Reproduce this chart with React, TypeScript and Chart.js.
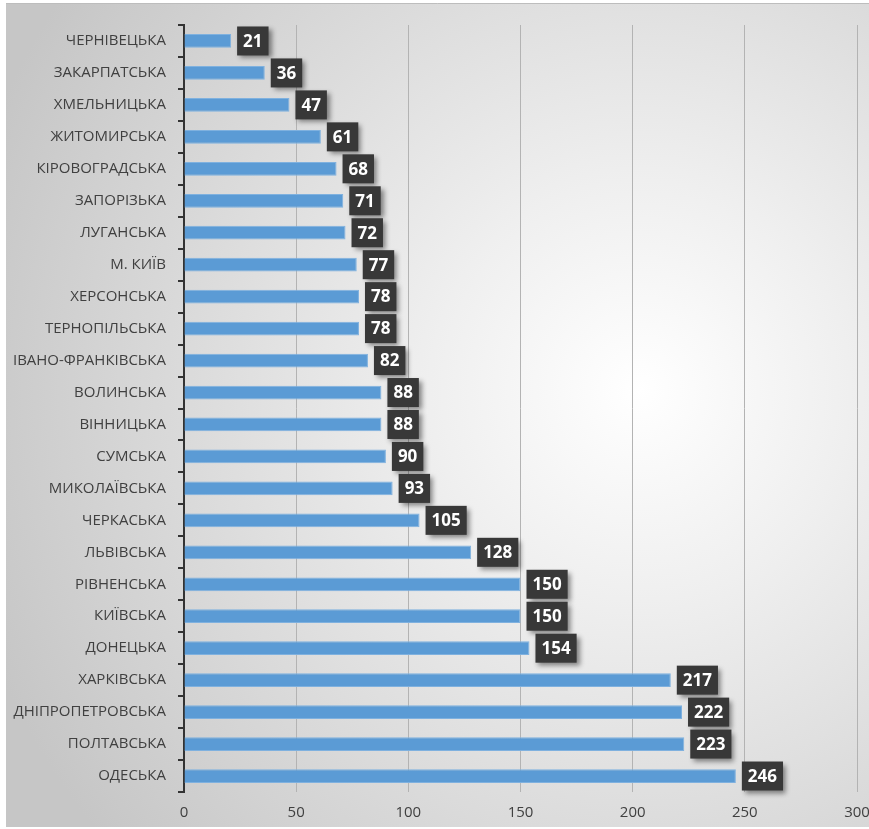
import React, { useEffect, useRef } from "react";
import { Chart, registerables } from "chart.js";

Chart.register(...registerables);

const categories = [
  "ЧЕРНІВЕЦЬКА",
  "ЗАКАРПАТСЬКА",
  "ХМЕЛЬНИЦЬКА",
  "ЖИТОМИРСЬКА",
  "КІРОВОГРАДСЬКА",
  "ЗАПОРІЗЬКА",
  "ЛУГАНСЬКА",
  "М. КИЇВ",
  "ХЕРСОНСЬКА",
  "ТЕРНОПІЛЬСЬКА",
  "ІВАНО-ФРАНКІВСЬКА",
  "ВОЛИНСЬКА",
  "ВІННИЦЬКА",
  "СУМСЬКА",
  "МИКОЛАЇВСЬКА",
  "ЧЕРКАСЬКА",
  "ЛЬВІВСЬКА",
  "РІВНЕНСЬКА",
  "КИЇВСЬКА",
  "ДОНЕЦЬКА",
  "ХАРКІВСЬКА",
  "ДНІПРОПЕТРОВСЬКА",
  "ПОЛТАВСЬКА",
  "ОДЕСЬКА",
];

const values = [21, 36, 47, 61, 68, 71, 72, 77, 78, 78, 82, 88, 88, 90, 93, 105, 128, 150, 150, 154, 217, 222, 223, 246];

const xMin = 0;
const xMax = 300;
const xStep = 50;

const W = 869;
const H = 829;

const backgroundPlugin = {
  id: "bgPlugin",
  beforeDraw(chart: any) {
    const ctx = chart.ctx as CanvasRenderingContext2D;
    ctx.save();
    ctx.fillStyle = "#ffffff";
    ctx.fillRect(0, 0, W, H);
    const g = ctx.createRadialGradient(640, 390, 0, 640, 390, 700);
    g.addColorStop(0, "#ffffff");
    g.addColorStop(0.3, "#efefef");
    g.addColorStop(1, "#c6c6c6");
    ctx.fillStyle = g;
    ctx.fillRect(6, 3, W - 6, 824);
    ctx.strokeStyle = "#bdbdbd";
    ctx.lineWidth = 1;
    ctx.beginPath();
    ctx.moveTo(6, 3.5);
    ctx.lineTo(W, 3.5);
    ctx.stroke();
    ctx.restore();
  },
};

const labelPlugin = {
  id: "boxLabels",
  afterDatasetsDraw(chart: any) {
    const ctx = chart.ctx as CanvasRenderingContext2D;
    const meta = chart.getDatasetMeta(0);
    ctx.save();
    ctx.font = "bold 17px 'Open Sans'";
    meta.data.forEach((bar: any, i: number) => {
      const text = String(values[i]);
      const tw = ctx.measureText(text).width;
      const bw = tw + 12;
      const bh = 29;
      const x = bar.x + 6;
      const y = bar.y - bh / 2;
      ctx.save();
      ctx.shadowColor = "rgba(0,0,0,0.45)";
      ctx.shadowBlur = 5;
      ctx.shadowOffsetX = 3;
      ctx.shadowOffsetY = 3;
      ctx.fillStyle = "#383838";
      ctx.fillRect(x, y, bw, bh);
      ctx.restore();
      ctx.fillStyle = "#ffffff";
      ctx.textAlign = "center";
      ctx.textBaseline = "middle";
      ctx.fillText(text, x + bw / 2, bar.y + 1);
    });
    ctx.restore();
  },
};

export default function App() {
  const ref = useRef<HTMLCanvasElement | null>(null);

  useEffect(() => {
    if (!ref.current) return;
    const chart = new Chart(ref.current, {
      type: "bar",
      data: {
        labels: categories,
        datasets: [
          {
            data: values,
            backgroundColor: "#5b9bd5",
            borderColor: "#7fb1df",
            borderWidth: 1,
            categoryPercentage: 1,
            barPercentage: 0.43,
          },
        ],
      },
      options: {
        indexAxis: "y",
        animation: false,
        responsive: false,
        devicePixelRatio: 1,
        layout: { padding: { left: 0, right: 12, top: 25, bottom: 0 } },
        plugins: {
          legend: { display: false },
          tooltip: { enabled: false },
        },
        scales: {
          x: {
            min: xMin,
            max: xMax,
            ticks: {
              stepSize: xStep,
              color: "#404040",
              font: { family: "'Open Sans'", size: 15 },
              padding: 12,
            },
            grid: { color: "#b3b3b3", lineWidth: 1, drawTicks: false },
            border: { display: false },
            afterFit(scale: any) {
              scale.height = 37;
              scale.paddingRight = 0;
              scale.paddingLeft = 0;
            },
          },
          y: {
            ticks: {
              color: "#404040",
              font: { family: "'Open Sans'", size: 15 },
              padding: 12,
              autoSkip: false,
            },
            grid: {
              display: true,
              drawOnChartArea: false,
              drawTicks: true,
              tickLength: 6,
              color: "#333333",
              lineWidth: 2,
            },
            border: { display: true, color: "#333333", width: 2 },
            afterFit(scale: any) {
              scale.width = 184;
              scale.paddingTop = 0;
              scale.paddingBottom = 0;
            },
          },
        },
      },
      plugins: [backgroundPlugin, labelPlugin],
    });
    return () => chart.destroy();
  }, []);

  return (
    <div style={{ position: "absolute", left: 0, top: 0, width: W, height: H }}>
      <canvas ref={ref} width={W} height={H} style={{ width: W, height: H, display: "block" }} />
    </div>
  );
}
